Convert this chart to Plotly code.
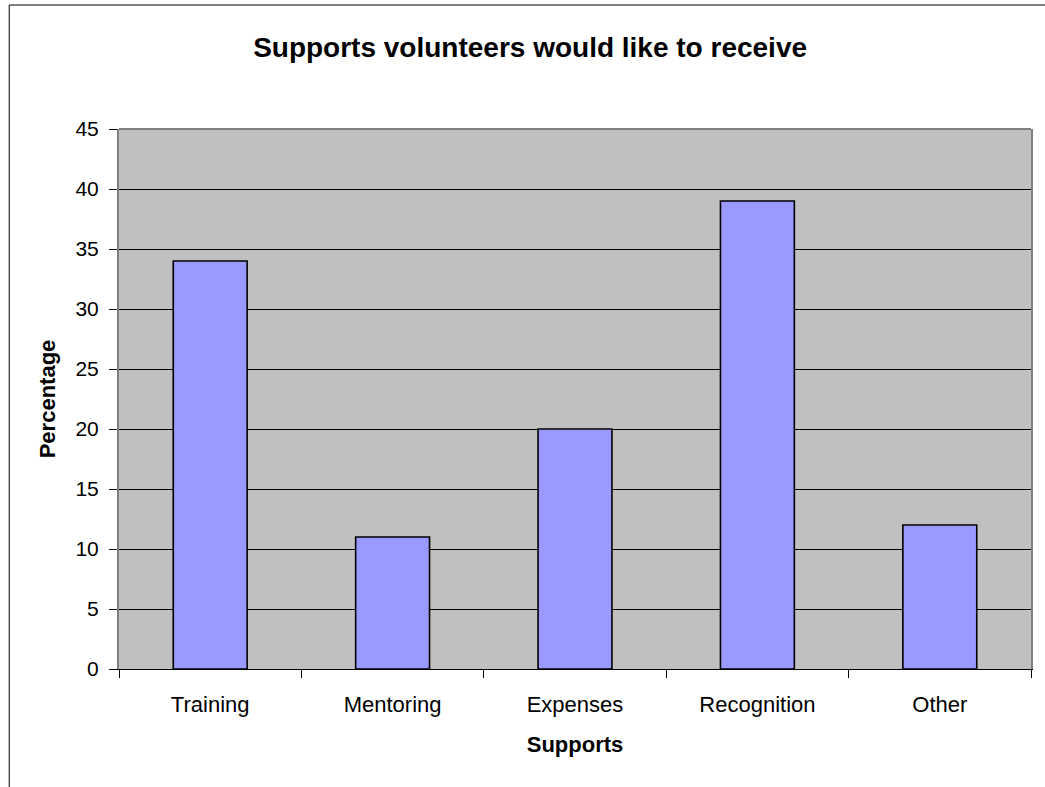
import plotly.graph_objects as go

# Share of volunteers asking for each kind of support
supports = ["Training", "Mentoring", "Expenses", "Recognition", "Other"]
percentages = [34, 11, 20, 39, 12]
y_ticks = [0, 5, 10, 15, 20, 25, 30, 35, 40, 45]

FONT = "Arial, 'Liberation Sans', sans-serif"
W, H = 1045, 787
L, R, T, B = 119, 12, 129, 118
pw, ph = W - L - R, H - T - B

def px_x(x):
    return (x - L) / pw

def px_y(y):
    return (H - B - y) / ph

fig = go.Figure(
    go.Bar(
        x=supports,
        y=percentages,
        marker=dict(color="#9999FF", line=dict(color="#000000", width=1.6)),
        hoverinfo="x+y",
    )
)

fig.update_layout(
    width=W,
    height=H,
    margin=dict(l=L, r=R, t=T, b=B, pad=0),
    paper_bgcolor="white",
    plot_bgcolor="#C0C0C0",
    bargap=0.595,
    showlegend=False,
    font=dict(family=FONT, color="black"),
    title=dict(
        text="<b>Supports volunteers would like to receive</b>",
        font=dict(family=FONT, size=28, color="black"),
        x=px_x(531), xref="paper", xanchor="center",
        y=1 - 47 / H, yref="container", yanchor="middle",
    ),
    xaxis=dict(
        type="category",
        showgrid=False,
        showline=True, linecolor="black", linewidth=1,
        ticks="outside", tickson="boundaries", ticklen=8, tickcolor="black",
        tickfont=dict(family=FONT, size=22, color="black"),
        ticklabelstandoff=16,
        title=dict(text="<b>Supports</b>", font=dict(family=FONT, size=22, color="black"), standoff=20),
    ),
    yaxis=dict(
        range=[0, 45],
        tickvals=y_ticks,
        showgrid=True, gridcolor="black", gridwidth=1,
        showline=True, linecolor="#808080", linewidth=2, mirror=True,
        ticks="outside", ticklen=8, tickcolor="black",
        tickfont=dict(family=FONT, size=21, color="black"),
        ticklabelstandoff=6,
        zeroline=False,
        title=dict(text="<b>Percentage</b>", font=dict(family=FONT, size=22, color="black"), standoff=14),
    ),
    shapes=[
        # top edge of the plot area
        dict(type="line", xref="paper", yref="paper", x0=0, x1=1, y0=1, y1=1,
             line=dict(color="#808080", width=2)),
        # outer chart frame (top and left edges)
        dict(type="line", xref="paper", yref="paper",
             x0=px_x(9), x1=px_x(W + 5), y0=px_y(5), y1=px_y(5),
             line=dict(color="black", width=1)),
        dict(type="line", xref="paper", yref="paper",
             x0=px_x(9), x1=px_x(9), y0=px_y(5), y1=px_y(H + 5),
             line=dict(color="black", width=1)),
    ],
)

fig.write_html("out.html")
